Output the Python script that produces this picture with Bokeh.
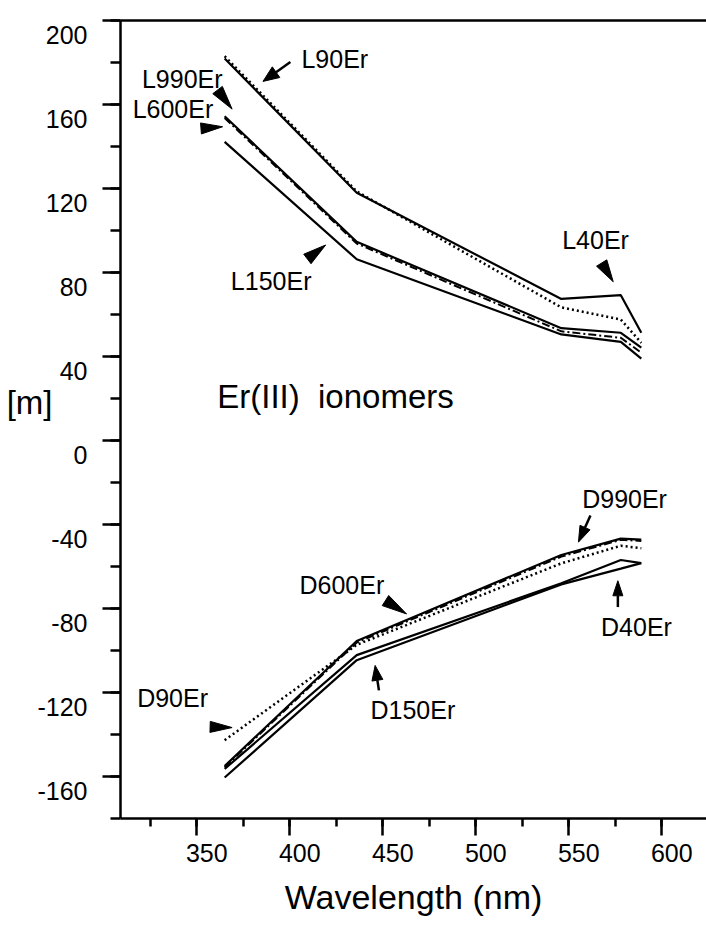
from bokeh.plotting import figure
from bokeh.models import (Range1d, LinearAxis, SingleIntervalTicker, FixedTicker,
                          CustomJSTickFormatter, Title)
from bokeh.core.properties import value
from bokeh.embed import file_html
from bokeh.resources import INLINE

# Measured wavelengths (nm)
wavelength = [365, 436, 546, 578, 589]

# [m] of the L-series films
L40Er = [181.9, 118.0, 67.4, 69.2, 51.3]
L90Er = [183.0, 118.6, 63.4, 57.6, 46.5]
L150Er = [142.2, 86.3, 50.5, 47.0, 39.0]
L600Er = [153.6, 93.8, 52.0, 48.9, 41.8]
L990Er = [154.4, 94.6, 53.5, 51.3, 44.2]

# [m] of the D-series films
D40Er = [-156.4, -102.2, -68.0, -56.9, -58.4]
D90Er = [-142.7, -97.3, -58.5, -50.1, -51.3]
D150Er = [-160.5, -104.6, -68.5, -61.0, -58.4]
D600Er = [-155.6, -96.2, -55.3, -47.3, -47.8]
D990Er = [-155.0, -95.5, -54.5, -46.7, -47.2]

x_tick_labels = [350, 400, 450, 500, 550, 600]
y_tick_labels = [200, 160, 120, 80, 40, 0, -40, -80, -120, -160]

FONT = "Liberation Sans"
X0, X1 = 309.0, 624.05
Y0, Y1 = -180.0, 200.0
FW, FH = 586, 798
SX = FW / (X1 - X0)   # px per nm
SY = FH / (Y1 - Y0)   # px per [m] unit

p = figure(frame_width=FW, frame_height=FH,
           x_range=Range1d(X0, X1), y_range=Range1d(Y0, Y1),
           output_backend="svg", toolbar_location=None,
           min_border_left=120, min_border_right=0,
           min_border_top=20, min_border_bottom=113)
p.outline_line_color = None
p.grid.visible = False
p.background_fill_color = "white"
p.border_fill_color = "white"

# Ranges used only to place the tick numbers a little off their ticks
p.extra_x_ranges = {"xlab": Range1d(X0 - 10 / SX, X1 - 10 / SX)}
p.extra_y_ranges = {"ylab": Range1d(Y0 + 14 / SY, Y1 + 14 / SY)}

blank = CustomJSTickFormatter(code="return ''")
plain = CustomJSTickFormatter(code="return String(tick)")

xa = p.xaxis[0]
xa.ticker = SingleIntervalTicker(interval=50, num_minor_ticks=2)
ya = p.yaxis[0]
ya.ticker = SingleIntervalTicker(interval=40, num_minor_ticks=2)
for ax, major, minor in ((xa, 17, 8), (ya, 18, 10)):
    ax.formatter = blank
    ax.major_label_text_font_size = "1px"
    ax.axis_line_width = 2.5
    ax.major_tick_line_width = 2.5
    ax.minor_tick_line_width = 2.5
    ax.major_tick_in = 0
    ax.major_tick_out = major
    ax.minor_tick_in = 0
    ax.minor_tick_out = minor
    ax.major_label_standoff = 0

label_style = dict(axis_line_color=None, major_tick_line_color=None,
                   minor_tick_line_color=None, major_tick_in=0, major_tick_out=0,
                   minor_tick_in=0, minor_tick_out=0,
                   major_label_text_font=FONT, major_label_text_color="black")

xlab = LinearAxis(x_range_name="xlab", ticker=FixedTicker(ticks=x_tick_labels),
                  formatter=plain, major_label_standoff=8,
                  major_label_text_font_size="25px", **label_style)
p.add_layout(xlab, "below")

ylab = LinearAxis(y_range_name="ylab", ticker=FixedTicker(ticks=y_tick_labels),
                  formatter=plain, major_label_standoff=15,
                  major_label_text_font_size="25px", **label_style)
p.add_layout(ylab, "left")

# Quantity name, set beside the value axis at the height of its tick
mlab = LinearAxis(ticker=FixedTicker(ticks=[18]),
                  formatter=CustomJSTickFormatter(code="return '[m]'"),
                  major_label_standoff=-18, major_label_text_font_size="33px",
                  **label_style)
p.add_layout(mlab, "left")

p.add_layout(Title(text="Wavelength (nm)", align="center", offset=10, standoff=22,
                   text_font=FONT, text_font_size="34px", text_font_style="normal",
                   text_color="black"), "below")

top = LinearAxis(ticker=SingleIntervalTicker(interval=50), formatter=blank,
                 major_label_text_font_size="1px",
                 axis_line_width=2.5, major_tick_out=0, major_tick_in=0,
                 minor_tick_out=0, minor_tick_in=0, major_label_standoff=0)
p.add_layout(top, "above")

# Curves
solid = dict(line_color="black", line_width=2.2)
dotted = dict(line_color="black", line_width=2.5, line_dash="2 3")
dashdot = dict(line_color="black", line_width=2.0, line_dash="8 3 2 3")

p.line(wavelength, L40Er, **solid)
p.line(wavelength, L90Er, **dotted)
p.line(wavelength, L150Er, **solid)
p.line(wavelength, L600Er, **dashdot)
p.line(wavelength, L990Er, **solid)

p.line(wavelength, D40Er, **solid)
p.line(wavelength, D90Er, **dotted)
p.line(wavelength, D150Er, **solid)
p.line(wavelength, D600Er, **dashdot)
p.line(wavelength, D990Er, **solid)

# Curve labels: text, centre x (nm), centre y ([m])
curve_labels = ["L90Er", "L990Er", "L600Er", "L150Er", "L40Er",
                "D990Er", "D600Er", "D90Er", "D150Er", "D40Er"]
label_x = [424.2, 342.2, 337.2, 390.0, 564.4, 580.0, 428.0, 337.0, 466.2, 586.4]
label_y = [181.8, 172.1, 157.7, 76.0, 95.3, -27.9, -68.8, -122.4, -128.5, -88.8]
p.text(x=label_x, y=label_y, text=curve_labels, text_font=value(FONT),
       text_font_size="25px", text_align="center", text_baseline="middle",
       text_color="black")

# Pointers: tip (nm, [m]), offset to tail in screen px, head length / width px
tip_x = [385.6, 369.0, 363.9, 419.3, 573.9, 555.2, 462.8, 369.0, 445.9, 576.4]
tip_y = [171.0, 157.8, 149.4, 93.1, 75.6, -48.4, -82.6, -136.7, -107.1, -66.8]
tail_dx = [27.4, -14.7, -21.6, -18.3, -11.7, 12.0, -21.1, -22.3, 3.8, 0.0]
tail_dy = [-19.3, -19.3, 1.7, 14.0, -19.0, -26.6, -13.4, -0.7, 25.0, 26.3]
head_len = [16, 24, 21.7, 23, 22, 16, 25, 22, 15, 15]
head_w = [13, 12, 11, 12, 12, 11, 12, 11, 11, 10]

tri_xs, tri_ys = [], []
shaft_x0, shaft_y0, shaft_x1, shaft_y1 = [], [], [], []
for tx, ty, dx, dy, hl, hw in zip(tip_x, tip_y, tail_dx, tail_dy, head_len, head_w):
    dist = (dx * dx + dy * dy) ** 0.5
    ux, uy = dx / dist, dy / dist
    bx, by = ux * hl, uy * hl
    nx, ny = -uy * hw / 2, ux * hw / 2
    px = [0, bx + nx, bx - nx]
    py = [0, by + ny, by - ny]
    tri_xs.append([tx + v / SX for v in px])
    tri_ys.append([ty - v / SY for v in py])
    if dist > hl + 1:
        shaft_x0.append(tx + bx / SX)
        shaft_y0.append(ty - by / SY)
        shaft_x1.append(tx + dx / SX)
        shaft_y1.append(ty - dy / SY)

p.patches(tri_xs, tri_ys, fill_color="black", line_color="black", line_width=1)
p.segment(shaft_x0, shaft_y0, shaft_x1, shaft_y1, line_color="black", line_width=2.5)

p.text(x=[361.0], y=[21.0], text=["Er(III)\u00a0 ionomers"], text_font=value(FONT),
       text_font_size="33px", text_align="left", text_baseline="alphabetic",
       text_color="black")

open("out.html", "w").write(file_html(p, INLINE))
